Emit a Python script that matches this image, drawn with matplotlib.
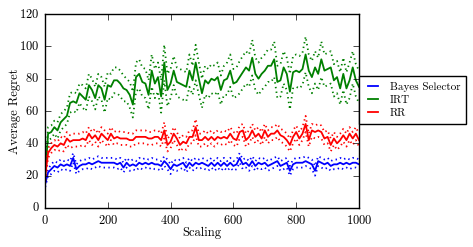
import numpy as np
import matplotlib
matplotlib.use("Agg")
import matplotlib.pyplot as plt

# scaling values (x axis)
scaling = [1] + list(range(10, 1001, 10))

# mean regret per method
bayes = [15, 22, 24, 26, 25, 27, 26, 27, 26, 31,
         24, 26, 27, 27, 28, 27, 28, 29, 28, 28,
         28, 28, 28, 27, 28, 25, 28, 26, 27, 26,
         28, 27, 28, 27, 28, 27, 27, 26, 29, 27,
         24, 27, 26, 27, 28, 25, 28, 26, 28, 27,
         28, 27, 26, 28, 26, 28, 26, 28, 26, 28,
         26, 27, 31, 27, 28, 26, 29, 26, 28, 27,
         28, 26, 27, 28, 29, 26, 27, 28, 23, 27,
         28, 28, 28, 29, 28, 27, 23, 29, 28, 27,
         28, 26, 27, 27, 28, 27, 28, 27, 28, 28,
         27]
irt = [20, 46, 47, 50, 48, 53, 55, 57, 65, 66,
       65, 71, 69, 67, 76, 73, 68, 76, 74, 67,
       76, 75, 79, 79, 77, 74, 73, 70, 64, 81,
       83, 78, 77, 70, 85, 77, 81, 69, 90, 73,
       77, 85, 78, 77, 76, 75, 85, 79, 90, 80,
       71, 79, 77, 80, 79, 81, 73, 79, 80, 85,
       77, 78, 81, 84, 87, 85, 93, 83, 80, 83,
       85, 88, 88, 92, 78, 79, 87, 83, 72, 84,
       85, 84, 86, 95, 85, 81, 87, 83, 92, 85,
       86, 87, 79, 81, 74, 83, 74, 79, 87, 79,
       75]
rr = [20, 34, 37, 39, 38, 40, 39, 43, 41, 42,
      42, 42, 43, 42, 46, 43, 45, 42, 46, 44,
      42, 46, 43, 44, 43, 43, 43, 42, 42, 44,
      44, 44, 44, 43, 43, 44, 44, 42, 48, 39,
      41, 46, 43, 39, 41, 40, 44, 44, 50, 42,
      42, 44, 42, 44, 42, 44, 43, 44, 43, 46,
      43, 42, 47, 48, 42, 44, 48, 44, 46, 43,
      48, 44, 46, 46, 48, 45, 44, 42, 39, 44,
      47, 43, 46, 52, 42, 48, 47, 48, 47, 43,
      44, 39, 43, 40, 42, 45, 42, 46, 43, 46,
      42]

# half width of the dotted bands
bayes_err = [2, 2, 3, 3, 3, 3, 3, 3, 3, 3,
             3, 3, 3, 3, 3, 3, 3, 3, 3, 3,
             3, 3, 3, 3, 3, 3, 3, 3, 3, 3,
             3, 3, 3, 3, 3, 3, 3, 3, 3, 3,
             3, 3, 3, 3, 3, 3, 3, 3, 3, 3,
             3, 3, 3, 3, 3, 3, 3, 3, 3, 3,
             3, 3, 3, 3, 3, 3, 3, 3, 3, 3,
             3, 3, 3, 3, 3, 3, 3, 3, 3, 3,
             3, 3, 3, 3, 3, 3, 3, 3, 3, 3,
             3, 3, 3, 3, 3, 3, 3, 3, 3, 3,
             3]
irt_err = [3, 4, 4, 4, 5, 5, 5, 5, 6, 6,
           6, 6, 7, 7, 7, 7, 7, 7, 7, 8,
           8, 8, 8, 8, 8, 8, 7, 8, 8, 9,
           9, 9, 9, 9, 10, 9, 9, 10, 11, 10,
           9, 9, 9, 9, 9, 9, 10, 9, 11, 10,
           9, 9, 9, 9, 9, 9, 9, 9, 10, 10,
           9, 9, 10, 10, 10, 10, 11, 10, 10, 10,
           10, 10, 10, 11, 10, 10, 10, 10, 11, 10,
           10, 10, 10, 11, 10, 10, 10, 10, 11, 10,
           10, 10, 10, 10, 10, 10, 10, 11, 10, 10,
           10]
rr_err = [3, 3, 3, 3, 3, 4, 4, 4, 4, 4,
          4, 4, 4, 4, 4, 4, 4, 4, 4, 4,
          4, 4, 4, 4, 4, 4, 4, 4, 4, 4,
          4, 4, 4, 4, 4, 4, 4, 4, 5, 4,
          4, 4, 4, 4, 4, 4, 4, 4, 5, 4,
          4, 4, 4, 4, 4, 4, 4, 4, 4, 4,
          4, 4, 4, 4, 4, 4, 4, 4, 4, 4,
          4, 4, 4, 4, 4, 4, 4, 4, 4, 4,
          4, 4, 4, 5, 4, 4, 4, 4, 4, 4,
          4, 4, 4, 4, 4, 4, 4, 4, 4, 4,
          4]

plt.style.use("classic")
plt.rcParams["font.family"] = ["cmr10", "DejaVu Serif"]
plt.rcParams["axes.formatter.use_mathtext"] = True
plt.rcParams["font.size"] = 8

fig = plt.figure(figsize=(4.73, 2.47), dpi=100, facecolor="white")
ax = fig.add_axes([0.095, 0.158, 0.664, 0.785])

series = [
    ("Bayes Selector", bayes, bayes_err, "b"),
    ("IRT", irt, irt_err, "g"),
    ("RR", rr, rr_err, "r"),
]
dots = (0, (1, 2.4))
for name, mean, err, col in series:
    mean = np.array(mean, dtype=float)
    err = np.array(err, dtype=float)
    ax.plot(scaling, mean, color=col, lw=1.3, label=name)
    ax.plot(scaling, mean + err, color=col, lw=1.3, linestyle=dots)
    ax.plot(scaling, mean - err, color=col, lw=1.3, linestyle=dots)

ax.set_xlim(0, 1000)
ax.set_ylim(0, 120)
ax.set_xticks(range(0, 1001, 200))
ax.set_yticks(range(0, 121, 20))
ax.tick_params(labelsize=9)
ax.set_xlabel("Scaling", fontsize=9)
ax.set_ylabel("Average Regret", fontsize=9)
ax.xaxis.set_label_coords(0.5, -0.1)
ax.yaxis.set_label_coords(-0.076, 0.5)

ax.legend(loc="center left", bbox_to_anchor=(1.0, 0.557), fontsize=8,
          handlelength=1.5, borderpad=0.5, labelspacing=0.3,
          borderaxespad=0.0, fancybox=False, frameon=True)

fig.savefig("out.png", dpi=100, facecolor="white")
